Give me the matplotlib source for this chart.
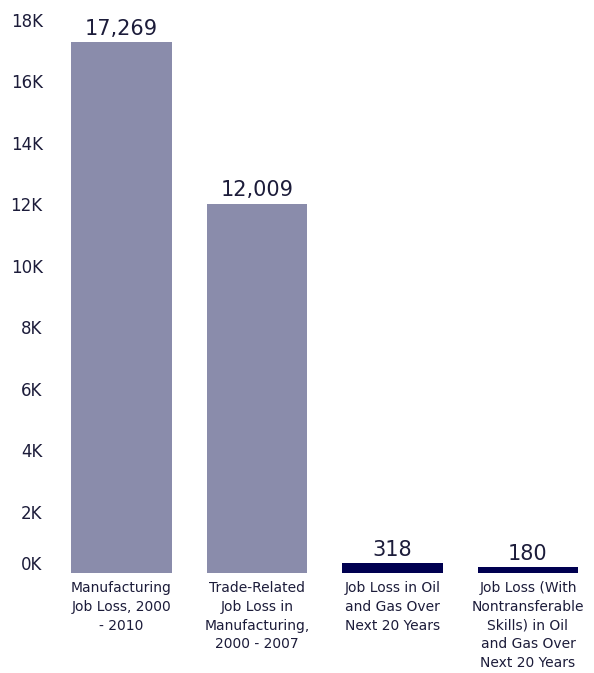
import numpy as np
import matplotlib
matplotlib.use('Agg')
import matplotlib.pyplot as plt
import matplotlib.transforms as mtransforms

categories = ['Manufacturing\nJob Loss, 2000\n- 2010',
              'Trade-Related\nJob Loss in\nManufacturing,\n2000 - 2007',
              'Job Loss in Oil\nand Gas Over\nNext 20 Years',
              'Job Loss (With\nNontransferable\nSkills) in Oil\nand Gas Over\nNext 20 Years']
values = [17269, 12009, 318, 180]
bar_colors = ['#8A8CAB', '#8A8CAB', '#000050', '#000050']
yticks = [0, 2000, 4000, 6000, 8000, 10000, 12000, 14000, 16000, 18000]

text_color = '#1C1C3A'
plt.rcParams['font.family'] = ['DejaVu Sans']

fig = plt.figure(figsize=(5.94, 6.73), dpi=100)
ax = fig.add_axes([0.0905, 0.1486, 0.9056, 0.8217])

x = np.arange(len(values))
ax.bar(x, values, width=0.745, color=bar_colors)

for xi, v in zip(x, values):
	ax.annotate(f'{v:,}', (xi, v), xytext=(0, 5.5), textcoords='offset points',
		ha='center', va='baseline', fontsize=15, color=text_color, clip_on=False)

ax.set_xlim(-0.5, 3.47)
ax.set_ylim(0, 18000)

ax.set_yticks(yticks)
ax.set_yticklabels([f'{t // 1000}K' for t in yticks], fontsize=12, color=text_color)
ax.set_xticks(x)
ax.set_xticklabels(categories, fontsize=10, color=text_color, linespacing=1.42, va='top')

ax.tick_params(axis='both', length=0)
ax.tick_params(axis='y', pad=8)
ax.tick_params(axis='x', pad=6)
for s in ax.spines.values():
	s.set_visible(False)

# the 0K label sits a bit above the baseline
lbl0 = ax.get_yticklabels()[0]
lbl0.set_transform(lbl0.get_transform() + mtransforms.ScaledTranslation(0, 10 / 100, fig.dpi_scale_trans))

fig.savefig('out.png', dpi=100)
